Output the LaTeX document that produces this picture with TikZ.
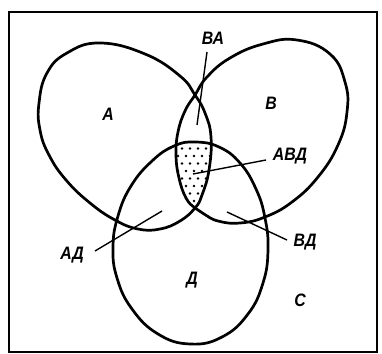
\documentclass[tikz,border=0pt]{standalone}
\usepackage{fontspec}
\setmainfont{Liberation Sans}
\newfontfamily\lblfont[FakeStretch=0.88]{Liberation Sans}
\begin{document}
\begin{tikzpicture}[x=1pt,y=-1pt,
  curve/.style={line width=2.7pt},
  lead/.style={line width=1.4pt},
  lbl/.style={font=\lblfont\fontsize{18}{20}\selectfont\bfseries\itshape, inner sep=0pt}]
\useasboundingbox (0,0) rectangle (382,353);
\draw[line width=1.6pt] (9,12) rectangle (377,352);
\def\pathA{plot[smooth cycle, tension=0.75] coordinates {(39,103) (47,73) (67,53) (100,43) (145,54) (180,76) (195,95) (205,113) (211,137) (209,170) (202,195) (195,208) (180,221) (160,229) (138,229) (115,220) (90,203) (66,180) (49,155) (40,130)}}
\def\pathB{plot[smooth cycle, tension=0.75] coordinates {(195,95) (207,77) (230,58) (263,44) (297,40) (330,54) (345,82) (347,112) (338,145) (318,177) (292,202) (265,217) (240,223) (218,221) (204,214) (195,208) (186,198) (179,178) (176,155) (178,132) (185,111)}}
\def\pathD{plot[smooth cycle, tension=0.75] coordinates {(195,142) (219,147) (240,163) (256,189) (265,218) (268,250) (263,283) (248,314) (222,337) (190,344) (158,334) (132,309) (117,278) (113,247) (118,216) (131,186) (152,161) (174,146)}}
% dotted triple intersection
\begin{scope}
  \clip \pathA;
  \clip \pathB;
  \clip \pathD;
  \foreach \j in {0,...,9}{
    \foreach \i in {0,...,6}{
      \fill ({170+\i*8+mod(\j,2)*4},{141+\j*7.5}) circle (1.3pt);
    }
  }
\end{scope}
\draw[curve] \pathA;
\draw[curve] \pathB;
\draw[curve] \pathD;
% labels
\node[lbl] (lA) at (108,114) {А};
\node[lbl] (lB) at (271,103) {В};
\node[lbl] (lD) at (192,280) {Д};
\node[lbl] (lC) at (300,300) {С};
\node[lbl] (lBA) at (213,38) {ВА};
\node[lbl] (lABD) at (290,156) {АВД};
\node[lbl] (lAD) at (72,255) {АД};
\node[lbl] (lBD) at (305,242) {ВД};
% leader ends
\coordinate (sBA) at (207,52);
\coordinate (tBA) at (197,125);
\coordinate (sABD) at (266,160);
\coordinate (tABD) at (193,174);
\coordinate (sAD) at (95,251);
\coordinate (tAD) at (162,211);
\coordinate (sBD) at (287,240);
\coordinate (tBD) at (227,212);
\draw[lead] (sBA) -- (tBA);
\draw[lead] (sABD) -- (tABD);
\draw[lead] (sAD) -- (tAD);
\draw[lead] (sBD) -- (tBD);
\end{tikzpicture}
\end{document}
